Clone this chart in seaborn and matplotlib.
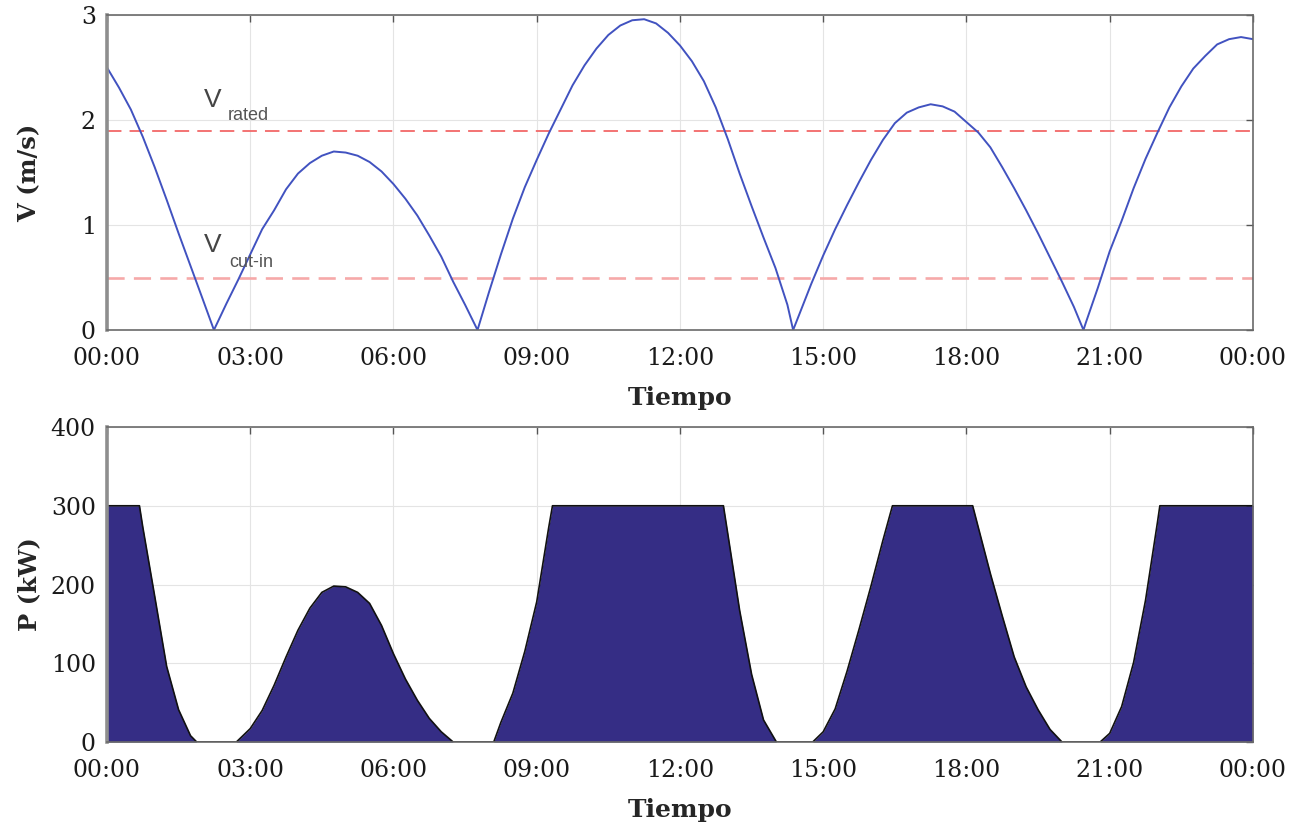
import matplotlib
matplotlib.use("Agg")
import matplotlib.pyplot as plt
import seaborn as sns

# wind speed (hours, m/s)
v_hours = [0.0, 0.25, 0.5, 0.75, 1.0, 1.25, 1.5, 1.75, 2.0, 2.24,
           2.5, 2.75, 3.0, 3.25, 3.5, 3.75, 4.0, 4.25, 4.5, 4.75, 5.0, 5.25, 5.5, 5.75,
           6.0, 6.25, 6.5, 6.75, 7.0, 7.25, 7.5, 7.76,
           8.0, 8.25, 8.5, 8.75, 9.0, 9.25, 9.5, 9.75, 10.0, 10.25, 10.5, 10.75, 11.0,
           11.25, 11.5, 11.75, 12.0, 12.25, 12.5, 12.75, 13.0, 13.25, 13.5, 13.75,
           14.0, 14.25, 14.37,
           14.5, 14.75, 15.0, 15.25, 15.5, 15.75, 16.0, 16.25, 16.5, 16.75, 17.0,
           17.25, 17.5, 17.75, 18.0, 18.25, 18.5, 18.75, 19.0, 19.25, 19.5, 19.75,
           20.0, 20.25, 20.45,
           20.5, 20.75, 21.0, 21.25, 21.5, 21.75, 22.0, 22.25, 22.5, 22.75, 23.0,
           23.25, 23.5, 23.75, 24.0]
v_values = [2.50, 2.31, 2.10, 1.84, 1.55, 1.24, 0.92, 0.61, 0.30, 0.00,
            0.25, 0.48, 0.72, 0.96, 1.14, 1.34, 1.49, 1.59, 1.66, 1.70, 1.69, 1.66, 1.60, 1.51,
            1.39, 1.25, 1.09, 0.90, 0.70, 0.46, 0.24, 0.00,
            0.36, 0.72, 1.06, 1.36, 1.62, 1.87, 2.10, 2.33, 2.52, 2.68, 2.81, 2.90, 2.95,
            2.96, 2.92, 2.83, 2.71, 2.56, 2.37, 2.12, 1.82, 1.49, 1.18, 0.88,
            0.59, 0.24, 0.00,
            0.15, 0.44, 0.71, 0.96, 1.19, 1.41, 1.62, 1.81, 1.97, 2.07, 2.12,
            2.15, 2.13, 2.08, 1.98, 1.88, 1.74, 1.55, 1.35, 1.14, 0.92, 0.69,
            0.46, 0.22, 0.00,
            0.07, 0.40, 0.75, 1.04, 1.35, 1.63, 1.88, 2.12, 2.32, 2.49, 2.61,
            2.72, 2.77, 2.79, 2.77]

# power (hours, kW)
p_hours = [0.0, 0.68, 0.75, 1.0, 1.25, 1.5, 1.75, 1.88,
           2.71, 3.0, 3.25, 3.5, 3.75, 4.0, 4.25, 4.5, 4.75, 5.0, 5.25, 5.5, 5.75,
           6.0, 6.25, 6.5, 6.75, 7.0, 7.25,
           8.10, 8.25, 8.5, 8.75, 9.0, 9.25, 9.33,
           12.91, 13.0, 13.25, 13.5, 13.75, 14.02,
           14.78, 15.0, 15.25, 15.5, 15.75, 16.0, 16.25, 16.45,
           18.13, 18.25, 18.5, 18.75, 19.0, 19.25, 19.5, 19.75, 20.0,
           20.8, 21.0, 21.25, 21.5, 21.75, 22.0, 22.05, 24.0]
p_values = [300, 300, 273, 185, 96, 41, 8, 0,
            0, 17, 40, 72, 108, 142, 170, 190, 198, 197, 190, 176, 148,
            112, 80, 53, 30, 13, 0,
            0, 25, 62, 115, 178, 272, 300,
            300, 265, 167, 86, 28, 0,
            0, 13, 42, 90, 143, 198, 256, 300,
            300, 272, 214, 160, 108, 70, 41, 16, 0,
            0, 11, 45, 101, 180, 279, 300, 300]

v_rated = 1.9
v_cut_in = 0.5

hour_ticks = [0, 3, 6, 9, 12, 15, 18, 21, 24]
hour_labels = ["00:00", "03:00", "06:00", "09:00", "12:00", "15:00", "18:00", "21:00", "00:00"]

sns.set_theme(style="white")
plt.rcParams["font.family"] = ["DejaVu Serif"]

fig = plt.figure(figsize=(13.03, 8.25), dpi=100)
ax1 = fig.add_axes([0.0821, 0.600, 0.8795, 0.3818])
ax2 = fig.add_axes([0.0821, 0.1006, 0.8795, 0.3818])


def style_axis(ax, yticks, ylabel):
    ax.set_xlim(0, 24)
    ax.set_xticks(hour_ticks)
    ax.set_xticklabels(hour_labels)
    ax.set_yticks(yticks)
    ax.grid(True, color="#e4e4e4", linewidth=0.8)
    ax.set_axisbelow(True)
    ax.tick_params(direction="in", length=5, width=1, color="#555555",
                   top=True, right=True, labelsize=17, labelcolor="#1a1a1a")
    ax.tick_params(axis="x", pad=12)
    ax.tick_params(axis="y", pad=8)
    for side in ax.spines.values():
        side.set_color("#6a6a6a")
        side.set_linewidth(1.2)
    ax.spines["left"].set_color("#8e8e8e")
    ax.spines["left"].set_linewidth(2.6)
    ax.set_xlabel("Tiempo", fontsize=18, fontweight="bold", labelpad=12)
    ax.set_ylabel(ylabel, fontsize=17.5, fontweight="bold")
    ax.yaxis.set_label_coords(-0.057, 0.5)


# upper panel: wind speed
ax1.axhline(v_rated, color="#f26868", linestyle=(0, (8, 4.5)), linewidth=1.3)
ax1.axhline(v_cut_in, color="#f6a9a9", linestyle=(0, (6.5, 3.5)), linewidth=1.9)
sns.lineplot(x=v_hours, y=v_values, ax=ax1, color="#4152c0", linewidth=1.4)
ax1.set_ylim(0, 3)
style_axis(ax1, [0, 1, 2, 3], "V (m/s)")

ax1.text(2.22, 2.19, "V", fontsize=19, family=["Liberation Sans"], color="#454545",
         ha="center", va="center")
ax1.text(2.97, 2.04, "rated", fontsize=13, family=["Liberation Sans"], color="#555555",
         ha="center", va="center")
ax1.text(2.22, 0.81, "V", fontsize=19, family=["Liberation Sans"], color="#454545",
         ha="center", va="center")
ax1.text(3.02, 0.64, "cut-in", fontsize=13, family=["Liberation Sans"], color="#555555",
         ha="center", va="center")

# lower panel: power
ax2.fill_between(p_hours, p_values, 0, color="#352d85", linewidth=0)
sns.lineplot(x=p_hours, y=p_values, ax=ax2, color="#111111", linewidth=1.2)
ax2.set_ylim(0, 400)
style_axis(ax2, [0, 100, 200, 300, 400], "P (kW)")

fig.savefig("out.png", dpi=100)
